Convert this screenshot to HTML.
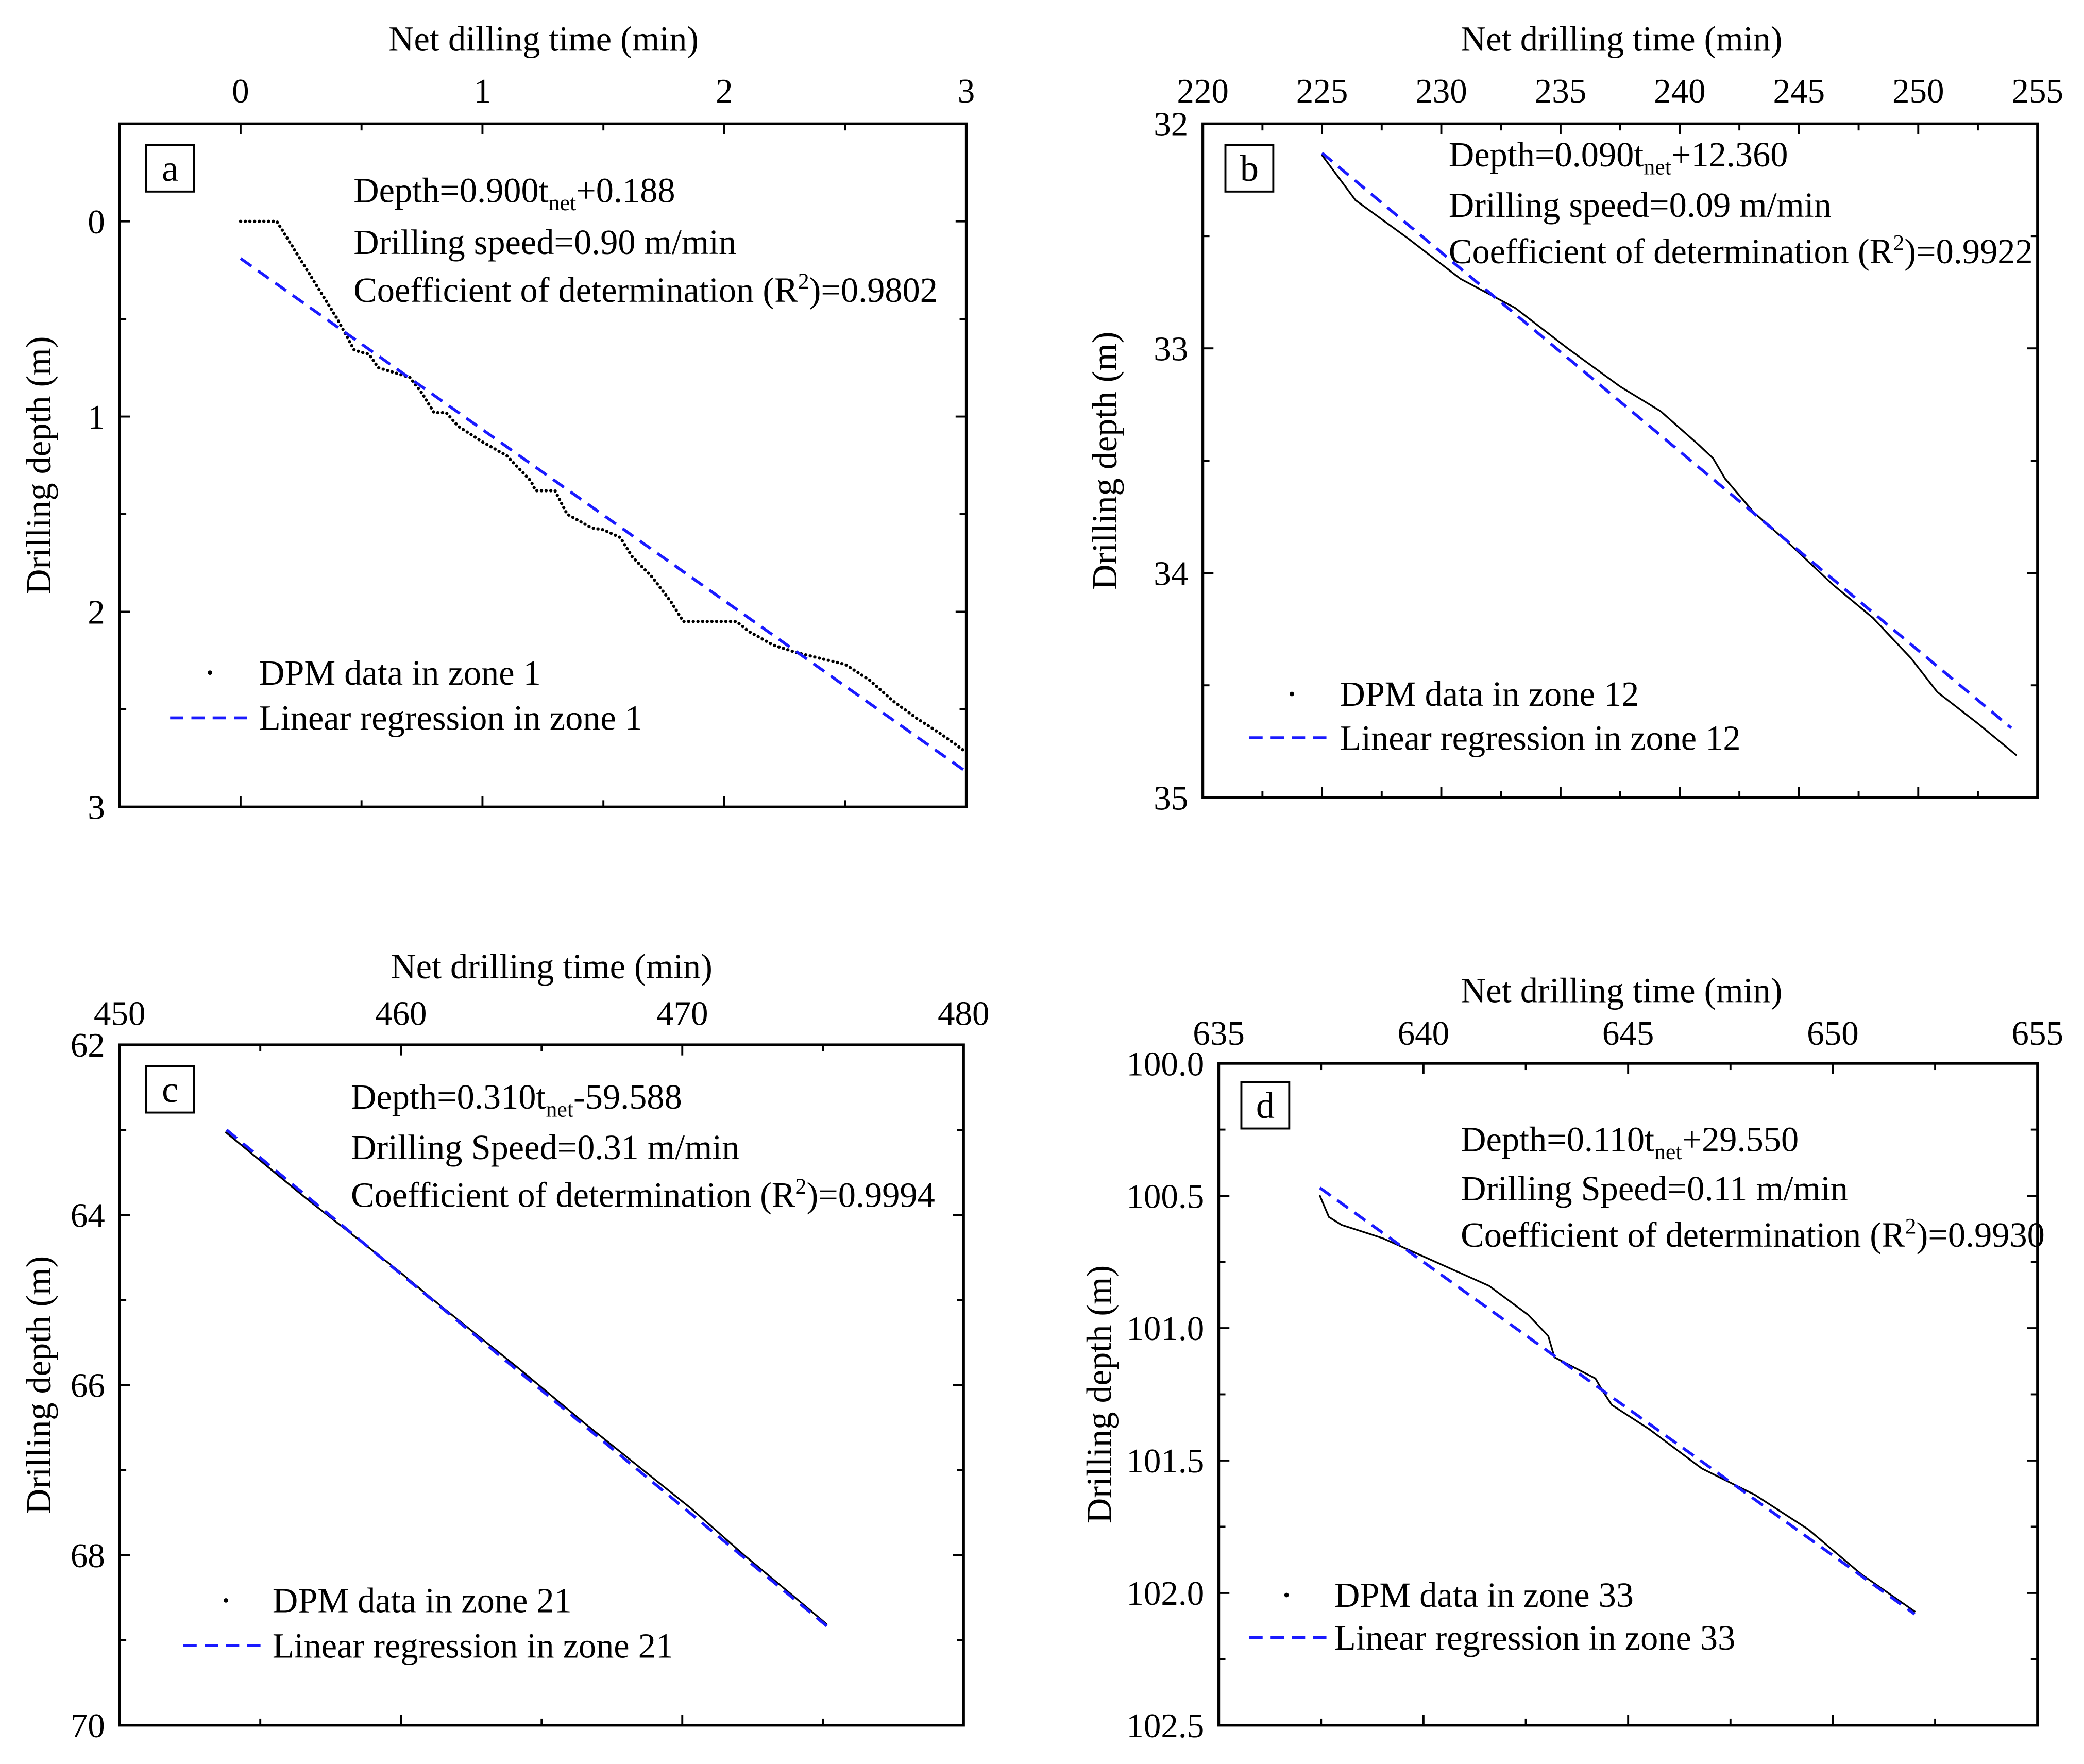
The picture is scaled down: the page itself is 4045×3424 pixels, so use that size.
<!DOCTYPE html>
<html><head><meta charset="utf-8"><style>
html,body{margin:0;padding:0;background:#fff;}
svg{display:block;font-family:"Liberation Serif",serif;}
</style></head><body>
<svg id="fig" width="4045" height="3424" viewBox="0 0 1568 1327" xmlns="http://www.w3.org/2000/svg"></svg>
<script>
// Panel a data
const aTime=[0,0.15,0.2,0.3,0.35,0.4,0.47,0.53,0.57,0.65,0.7,0.75,0.8,0.85,0.9,1.0,1.1,1.2,1.22,1.3,1.35,1.45,1.5,1.57,1.62,1.7,1.78,1.83,2.05,2.1,2.2,2.3,2.4,2.5,2.6,2.7,2.8,2.9,3.0];
const aDepth=[0,0,0.1,0.3,0.4,0.5,0.66,0.68,0.75,0.78,0.8,0.88,0.98,0.98,1.05,1.13,1.2,1.33,1.38,1.38,1.5,1.57,1.58,1.62,1.72,1.82,1.95,2.05,2.05,2.1,2.17,2.21,2.24,2.27,2.35,2.46,2.55,2.63,2.72];
const aRegT=[0,3];
const aRegD=[0.19,2.82];
// Panel b data
const bTime=[225,226.4,228.6,230.8,233.1,235.3,237.5,239.2,240.8,241.4,241.9,243.1,244.7,246.4,248.1,249.7,250.8,252.5,254.1];
const bDepth=[32.14,32.34,32.51,32.69,32.82,33.0,33.17,33.28,33.43,33.49,33.58,33.73,33.88,34.05,34.2,34.38,34.53,34.67,34.81];
const bRegT=[225,253.9];
const bRegD=[32.13,34.69];
// Panel c data
const cTime=[453.78,456.61,459.92,461.34,464.17,466.53,468.42,470.31,472.2,474.09,475.13];
const cDepth=[63.03,63.8,64.66,65.05,65.8,66.45,66.95,67.45,68.0,68.52,68.81];
const cRegT=[453.8,475.2];
const cRegD=[63.0,68.85];
// Panel d data
const dTime=[637.47,637.69,638.0,639.0,640.3,641.6,642.56,643.05,643.2,644.2,644.35,644.6,645.5,646.8,648.1,649.4,650.7,652.0];
const dDepth=[100.5,100.58,100.61,100.66,100.75,100.84,100.95,101.03,101.11,101.19,101.23,101.29,101.38,101.53,101.63,101.76,101.93,102.07];
const dRegT=[637.47,652.0];
const dRegD=[100.47,102.08];

const NS="http://www.w3.org/2000/svg";
const svg=document.getElementById('fig');
const FS=26.5;
function mk(tag,attrs,parent){const e=document.createElementNS(NS,tag);for(const k in attrs)e.setAttribute(k,attrs[k]);(parent||svg).appendChild(e);return e;}
function txt(s,attrs,parent){const e=mk('text',attrs,parent);e.textContent=s;return e;}

function panel(cfg){
  const g=mk('g',{});
  
  
  const {L,R,T,B,x0,x1,y0,y1}=cfg;
  const sx=v=>L+(v-x0)/(x1-x0)*(R-L);
  const sy=v=>T+(v-y0)/(y1-y0)*(B-T);
  const tg=mk('g',{stroke:'#000','stroke-width':1.5},g);
  
  
  for(let v=cfg.xMinor0;v<=x1+1e-9;v+=cfg.xMinor){
    const major=Math.abs(Math.round((v-cfg.xMaj0)/cfg.xMajor)*cfg.xMajor+cfg.xMaj0-v)<1e-6;
    const len=major?8:5;const x=sx(v);
    mk('line',{x1:x,y1:T,x2:x,y2:T+len},tg);mk('line',{x1:x,y1:B,x2:x,y2:B-len},tg);
  }
  for(let v=cfg.yMinor0;v<=y1+1e-9;v+=cfg.yMinor){
    const major=Math.abs(Math.round((v-cfg.yMaj0)/cfg.yMajor)*cfg.yMajor+cfg.yMaj0-v)<1e-6;
    const len=major?8:5;const y=sy(v);
    mk('line',{x1:L,y1:y,x2:L+len,y2:y},tg);mk('line',{x1:R,y1:y,x2:R-len,y2:y},tg);
  }
  cfg.xLabels.forEach(v=>{const t=txt(String(v),{x:sx(v),y:cfg.xLabY,'font-size':26,'text-anchor':'middle'},g);
    });
  cfg.yLabels.forEach(v=>{const t=txt(cfg.yFmt(v),{x:L-11,y:sy(v)+9,'font-size':26,'text-anchor':'end'},g);
    });
  const box=mk('rect',{x:L,y:T,width:R-L,height:B-T,fill:'none',stroke:'#000','stroke-width':2},g);
  
  const xt=txt(cfg.xTitle,{x:cfg.xTitleX,y:cfg.xTitleY,'font-size':FS,'text-anchor':'middle'},g);
  
  const yt=txt('Drilling depth (m)',{x:0,y:0,'font-size':FS,'text-anchor':'middle',transform:`translate(${cfg.yTitleX},${(T+B)/2}) rotate(-90)`},g);
  
  const lb=mk('rect',{x:cfg.lx-18,y:cfg.ly-18,width:36,height:35,fill:'none',stroke:'#000','stroke-width':1.5},g);
  
  const lt=txt(cfg.id,{x:cfg.lx,y:cfg.ly+9,'font-size':28,'text-anchor':'middle'},g);
  
  const dp=cfg.t.map((v,i)=>(i?'L':'M')+sx(v).toFixed(2)+','+sy(cfg.d[i]).toFixed(2)).join('');
  const dl=mk('path',{d:dp,fill:'none',stroke:'#000','stroke-width':cfg.dotted?2.4:1.3,'stroke-dasharray':cfg.dotted?'0.1 3.4':'none','stroke-linecap':'round'},g);
  
  const rp=cfg.rt.map((v,i)=>(i?'L':'M')+sx(v).toFixed(2)+','+sy(cfg.rd[i]).toFixed(2)).join('');
  const rl=mk('path',{d:rp,fill:'none',stroke:'#1a1aff','stroke-width':2.2,'stroke-dasharray':'10 6'},g);
  
  const eq=txt('',{x:cfg.ex,y:cfg.ey[0],'font-size':FS},g);
  
  eq.appendChild(document.createTextNode(cfg.eqA));
  const sub=mk('tspan',{'font-size':17,dy:6},eq);sub.textContent='net';
  const rest=mk('tspan',{dy:-6},eq);rest.textContent=cfg.eqB;
  const sp=txt(cfg.speed,{x:cfg.ex,y:cfg.ey[1],'font-size':FS},g);
  
  const r2=txt('Coefficient of determination (R',{x:cfg.ex,y:cfg.ey[2],'font-size':FS},g);
  
  const sup=mk('tspan',{'font-size':17,dy:-10},r2);sup.textContent='2';
  const r2b=mk('tspan',{dy:10},r2);r2b.textContent=')='+cfg.r2;
  const lg=mk('g',{},g);
  
  mk('circle',{cx:cfg.legDotX,cy:cfg.legY1-7,r:1.7,fill:'#000'},lg);
  const l1=txt('DPM data in zone '+cfg.zone,{x:cfg.legTx,y:cfg.legY1+2,'font-size':FS},lg);
  
  mk('line',{x1:cfg.legL0,x2:cfg.legL1,y1:cfg.legY2-7,y2:cfg.legY2-7,stroke:'#1a1aff','stroke-width':2.2,'stroke-dasharray':'10 6'},lg);
  const l2=txt('Linear regression in zone '+cfg.zone,{x:cfg.legTx,y:cfg.legY2+2,'font-size':FS},lg);
  
}

panel({id:'a',L:90,R:727,T:93,B:607,x0:-0.5,x1:3,y0:-0.5,y1:3,
  xMinor0:-0.5,xMinor:0.5,xMaj0:0,xMajor:1,yMinor0:-0.5,yMinor:0.5,yMaj0:0,yMajor:1,
  xLabels:[0,1,2,3],yLabels:[0,1,2,3],yFmt:v=>String(v),xLabY:77,
  xTitle:'Net dilling time (min)',xTitleX:409,xTitleY:38,yTitleX:38,lx:128,ly:127,
  t:aTime,d:aDepth,rt:aRegT,rd:aRegD,dotted:true,
  ex:266,ey:[152,191,227],eqA:'Depth=0.900t',eqB:'+0.188',speed:'Drilling speed=0.90 m/min',r2:'0.9802',
  zone:'1',legDotX:158,legY1:513,legY2:547,legTx:195,legL0:128,legL1:190});

panel({id:'b',L:905,R:1533,T:93,B:600,x0:220,x1:255,y0:32,y1:35,
  xMinor0:220,xMinor:2.5,xMaj0:220,xMajor:5,yMinor0:32,yMinor:0.5,yMaj0:32,yMajor:1,
  xLabels:[220,225,230,235,240,245,250,255],yLabels:[32,33,34,35],yFmt:v=>String(v),xLabY:77,
  xTitle:'Net drilling time (min)',xTitleX:1220,xTitleY:38,yTitleX:840,lx:940,ly:127,
  t:bTime,d:bDepth,rt:bRegT,rd:bRegD,dotted:false,
  ex:1090,ey:[125,163,198],eqA:'Depth=0.090t',eqB:'+12.360',speed:'Drilling speed=0.09 m/min',r2:'0.9922',
  zone:'12',legDotX:972,legY1:529,legY2:562,legTx:1008,legL0:940,legL1:1000});

panel({id:'c',L:90,R:725,T:786,B:1298,x0:450,x1:480,y0:62,y1:70,
  xMinor0:450,xMinor:5,xMaj0:450,xMajor:10,yMinor0:62,yMinor:1,yMaj0:62,yMajor:2,
  xLabels:[450,460,470,480],yLabels:[62,64,66,68,70],yFmt:v=>String(v),xLabY:771,
  xTitle:'Net drilling time (min)',xTitleX:415,xTitleY:736,yTitleX:38,lx:128,ly:820,
  t:cTime,d:cDepth,rt:cRegT,rd:cRegD,dotted:false,
  ex:264,ey:[834,872,908],eqA:'Depth=0.310t',eqB:'-59.588',speed:'Drilling Speed=0.31 m/min',r2:'0.9994',
  zone:'21',legDotX:170,legY1:1211,legY2:1245,legTx:205,legL0:138,legL1:200});

panel({id:'d',L:917,R:1533,T:800,B:1298,x0:635,x1:655,y0:100,y1:102.5,
  xMinor0:635,xMinor:2.5,xMaj0:635,xMajor:5,yMinor0:100,yMinor:0.25,yMaj0:100,yMajor:0.5,
  xLabels:[635,640,645,650,655],yLabels:[100,100.5,101,101.5,102,102.5],yFmt:v=>v.toFixed(1),xLabY:786,
  xTitle:'Net drilling time (min)',xTitleX:1220,xTitleY:754,yTitleX:836,lx:952,ly:832,
  t:dTime,d:dDepth,rt:dRegT,rd:dRegD,dotted:false,
  ex:1099,ey:[866,903,938],eqA:'Depth=0.110t',eqB:'+29.550',speed:'Drilling Speed=0.11 m/min',r2:'0.9930',
  zone:'33',legDotX:968,legY1:1207,legY2:1239,legTx:1004,legL0:940,legL1:1000});
</script>
</body></html>
